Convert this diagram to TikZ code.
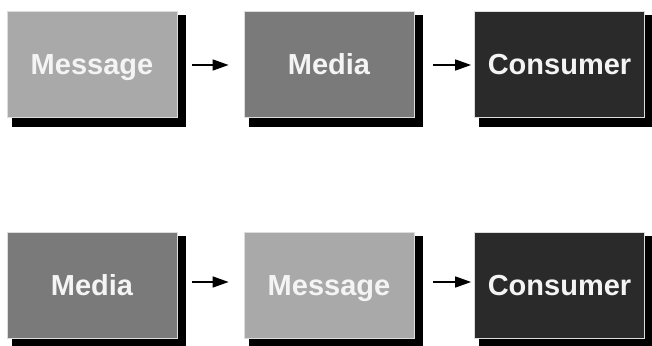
\documentclass[tikz,border=0pt]{standalone}
\usepackage{fontspec}
\setmainfont{Liberation Sans}
\usetikzlibrary{arrows.meta,calc}

\definecolor{lightbox}{HTML}{A9A9A9}
\definecolor{midbox}{HTML}{7A7A7A}
\definecolor{darkbox}{HTML}{2A2A2A}
\definecolor{boxtext}{HTML}{F4F4F4}
\definecolor{rim}{HTML}{DCDCDC}

\pgfdeclarelayer{paper}
\pgfdeclarelayer{background}
\pgfsetlayers{paper,background,main}

\tikzset{
  x=1pt, y=1pt,
  panel/.style={rectangle, minimum width=170pt, minimum height=106pt,
    inner sep=0pt, text height=21pt, text depth=0pt,
    draw=rim, line width=0.8pt, text=boxtext,
    font=\fontsize{29}{34}\selectfont\bfseries},
  flow/.style={line width=1.6pt, -{Triangle[length=16pt,width=11pt]}},
}

% panel with a drop shadow offset to the lower right
\newcommand{\shadowpanel}[4]{%
  \node[panel, fill=#3] (#1) at #2 {#4};
  \begin{pgfonlayer}{background}
    \fill[black] ($(#1.south west)+(5,-10)$) rectangle ($(#1.north east)+(9,-4)$);
  \end{pgfonlayer}
}

\begin{document}
\begin{tikzpicture}
  \useasboundingbox (0,0) rectangle (652,345);
  \clip (0,0) rectangle (652,345);
  \begin{pgfonlayer}{paper}
    \fill[white] (0,0) rectangle (652,345);
  \end{pgfonlayer}

  % upper chain
  \shadowpanel{a1}{(92,281)}{lightbox}{Message}
  \shadowpanel{a2}{(329,281)}{midbox}{Media}
  \shadowpanel{a3}{(559.5,281)}{darkbox}{Consumer}

  % lower chain
  \shadowpanel{b1}{(92,59.5)}{midbox}{Media}
  \shadowpanel{b2}{(329,59.5)}{lightbox}{Message}
  \shadowpanel{b3}{(559.5,59.5)}{darkbox}{Consumer}

  \draw[flow, shorten <=15pt, shorten >=15pt] ([yshift=-1pt]a1.east) -- ([yshift=-1pt]a2.west);
  \draw[flow, shorten <=19pt, shorten >=3pt]  ([yshift=-1pt]a2.east) -- ([yshift=-1pt]a3.west);
  \draw[flow, shorten <=15pt, shorten >=15pt] ([yshift=3.5pt]b1.east) -- ([yshift=3.5pt]b2.west);
  \draw[flow, shorten <=19pt, shorten >=3pt]  ([yshift=3.5pt]b2.east) -- ([yshift=3.5pt]b3.west);
\end{tikzpicture}
\end{document}
